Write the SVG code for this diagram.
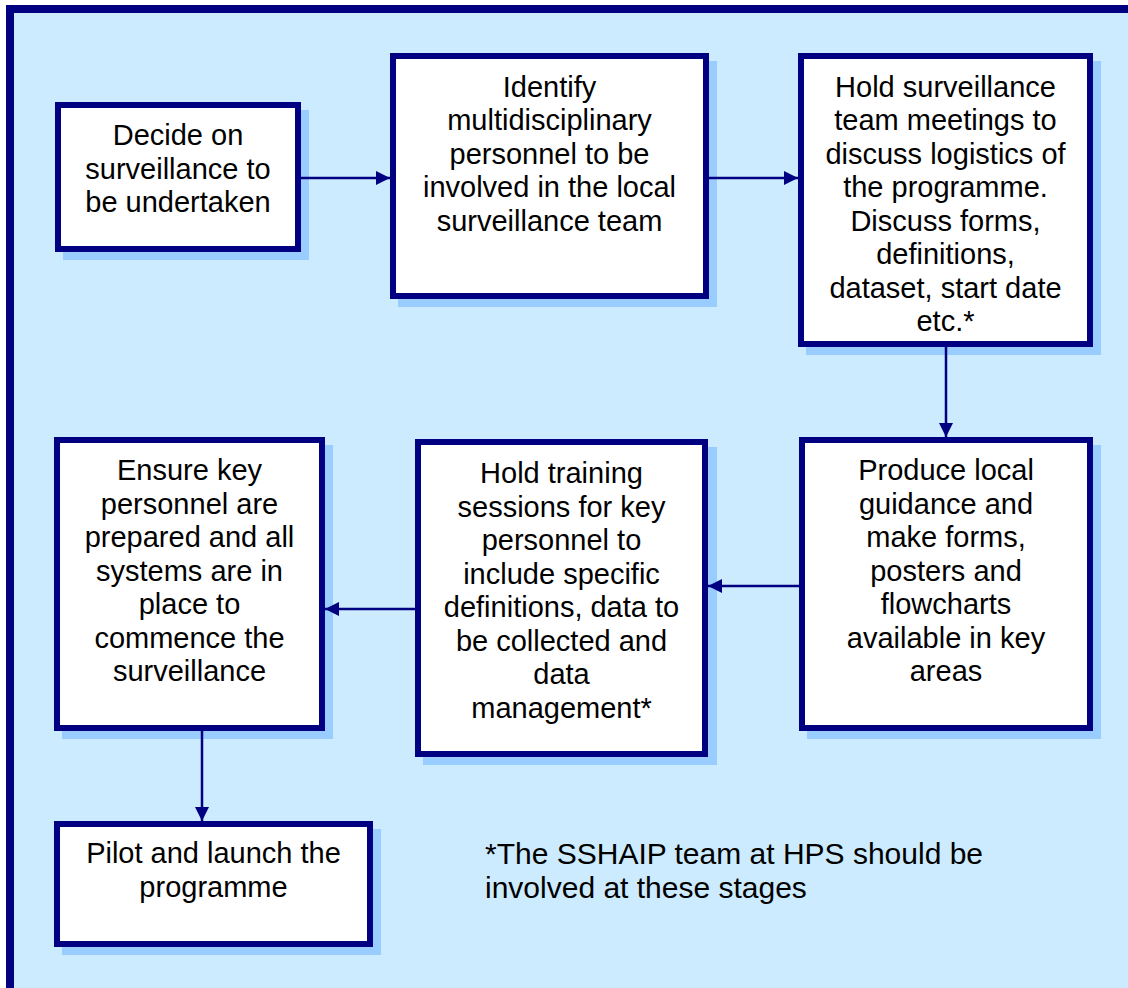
<svg xmlns="http://www.w3.org/2000/svg" width="1128" height="988" viewBox="0 0 1128 988">
<style>
.shadow{fill:#99CCFF;}
.box{fill:#FFFFFF;stroke:#000080;stroke-width:6;}
.t{font-family:"Liberation Sans",Arial,sans-serif;font-size:29px;fill:#000000;text-anchor:middle;}
.note{font-family:"Liberation Sans",Arial,sans-serif;font-size:30px;fill:#000000;}
.conn{stroke:#000080;stroke-width:2.5;fill:none;marker-end:url(#ah);}
</style>
<defs>
<marker id="ah" markerWidth="14" markerHeight="14" viewBox="0 0 14 14" refX="14" refY="7" orient="auto" markerUnits="userSpaceOnUse">
<path d="M0,0 L14,7 L0,14 Z" fill="#000080"/>
</marker>
</defs>
<rect x="0" y="0" width="1128" height="988" fill="#FFFFFF"/>
<rect id="frame" x="10" y="9" width="1130" height="990" fill="#CCEBFF" stroke="#000080" stroke-width="8"/>

<g id="n1">
<rect class="shadow" x="63" y="110" width="246" height="150"/>
<rect class="box" x="58" y="105" width="240" height="144"/>
<text class="t" x="178" y="145">Decide on</text>
<text class="t" x="178" y="178.5">surveillance to</text>
<text class="t" x="178" y="212">be undertaken</text>
</g>

<g id="n2">
<rect class="shadow" x="398" y="61" width="319" height="246"/>
<rect class="box" x="393" y="56" width="313" height="240"/>
<text class="t" x="549.5" y="96.7">Identify</text>
<text class="t" x="549.5" y="130.2">multidisciplinary</text>
<text class="t" x="549.5" y="163.7">personnel to be</text>
<text class="t" x="549.5" y="197.2">involved in the local</text>
<text class="t" x="549.5" y="230.7">surveillance team</text>
</g>

<g id="n3">
<rect class="shadow" x="806" y="61" width="295" height="294"/>
<rect class="box" x="801" y="56" width="289" height="288"/>
<text class="t" x="945.5" y="96.7">Hold surveillance</text>
<text class="t" x="945.5" y="130.2">team meetings to</text>
<text class="t" x="945.5" y="163.7">discuss logistics of</text>
<text class="t" x="945.5" y="197.2">the programme.</text>
<text class="t" x="945.5" y="230.7">Discuss forms,</text>
<text class="t" x="945.5" y="264.2">definitions,</text>
<text class="t" x="945.5" y="297.7">dataset, start date</text>
<text class="t" x="945.5" y="331.2">etc.*</text>
</g>

<g id="n4">
<rect class="shadow" x="807" y="445" width="294" height="294"/>
<rect class="box" x="802" y="440" width="288" height="288"/>
<text class="t" x="946" y="480">Produce local</text>
<text class="t" x="946" y="513.5">guidance and</text>
<text class="t" x="946" y="547">make forms,</text>
<text class="t" x="946" y="580.5">posters and</text>
<text class="t" x="946" y="614">flowcharts</text>
<text class="t" x="946" y="647.5">available in key</text>
<text class="t" x="946" y="681">areas</text>
</g>

<g id="n5">
<rect class="shadow" x="62" y="445" width="271" height="294"/>
<rect class="box" x="57" y="440" width="265" height="288"/>
<text class="t" x="189.5" y="480">Ensure key</text>
<text class="t" x="189.5" y="513.5">personnel are</text>
<text class="t" x="189.5" y="547">prepared and all</text>
<text class="t" x="189.5" y="580.5">systems are in</text>
<text class="t" x="189.5" y="614">place to</text>
<text class="t" x="189.5" y="647.5">commence the</text>
<text class="t" x="189.5" y="681">surveillance</text>
</g>

<g id="n6">
<rect class="shadow" x="423" y="447" width="294" height="318"/>
<rect class="box" x="418" y="442" width="287" height="312"/>
<text class="t" x="561.5" y="483.3">Hold training</text>
<text class="t" x="561.5" y="516.8">sessions for key</text>
<text class="t" x="561.5" y="550.3">personnel to</text>
<text class="t" x="561.5" y="583.8">include specific</text>
<text class="t" x="561.5" y="617.3">definitions, data to</text>
<text class="t" x="561.5" y="650.8">be collected and</text>
<text class="t" x="561.5" y="684.3">data</text>
<text class="t" x="561.5" y="717.8">management*</text>
</g>

<g id="n7">
<rect class="shadow" x="62" y="829" width="319" height="126"/>
<rect class="box" x="57" y="824" width="313" height="120"/>
<text class="t" x="213.5" y="863.3">Pilot and launch the</text>
<text class="t" x="213.5" y="896.8">programme</text>
</g>

<g id="connectors">
<line class="conn" x1="301" y1="178" x2="390" y2="178"/>
<line class="conn" x1="709" y1="178" x2="798" y2="178"/>
<line class="conn" x1="946" y1="347" x2="946" y2="437"/>
<line class="conn" x1="799" y1="586" x2="708" y2="586"/>
<line class="conn" x1="415" y1="609" x2="325" y2="609"/>
<line class="conn" x1="202" y1="731" x2="202" y2="821"/>
</g>

<g id="footnote">
<text class="note" x="485" y="864">*The SSHAIP team at HPS should be</text>
<text class="note" x="485" y="898">involved at these stages</text>
</g>
</svg>
